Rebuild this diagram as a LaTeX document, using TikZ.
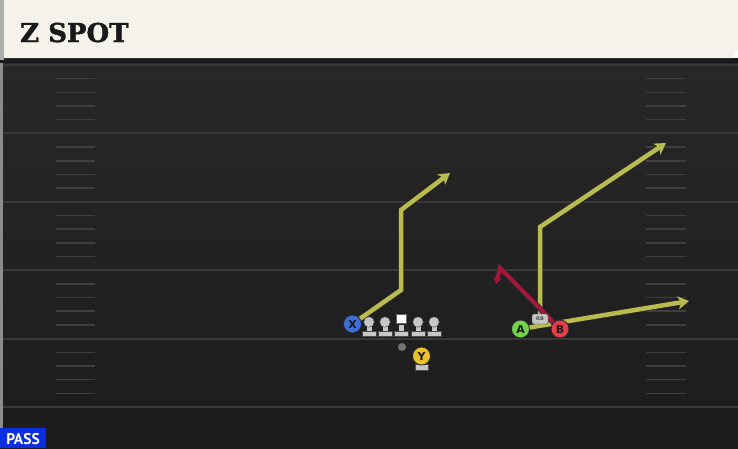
\documentclass[tikz,border=0pt]{standalone}
\usepackage{fontspec}
\setmainfont{DejaVu Sans}
\newfontfamily\titlefont{DejaVu Serif}[BoldFont={DejaVu Serif Bold}, BoldFeatures={FakeBold=1.5}]
\newfontfamily\passfont{PT Sans}
\usetikzlibrary{arrows.meta}

\definecolor{fieldtop}{HTML}{282828}
\definecolor{fieldbot}{HTML}{1C1C1C}
\definecolor{yardline}{HTML}{393939}
\definecolor{hashmark}{HTML}{3F3F3F}
\definecolor{titlebg}{HTML}{F4F2EB}
\definecolor{routeyel}{HTML}{B9BB4E}
\definecolor{routered}{HTML}{A3173B}
\definecolor{xblue}{HTML}{3E6FD8}
\definecolor{ygold}{HTML}{E8C22C}
\definecolor{agreen}{HTML}{72D34B}
\definecolor{bred}{HTML}{E33F4B}
\definecolor{linegray}{HTML}{C6C6C6}
\definecolor{passblue}{HTML}{0B2FE0}

\pgfdeclarelayer{field}
\pgfdeclarelayer{routes}
\pgfsetlayers{field,routes,main}

\begin{document}
\begin{tikzpicture}
        [x=1pt, y=-1pt,
        player/.style={circle, draw=black!85, line width=0.8pt, minimum size=18pt, inner sep=0pt,
          font=\bfseries\fontsize{11}{11}\selectfont, text=black!90},
        olhead/.style={circle, fill=linegray, draw=black!70, line width=0.4pt, minimum size=10.5pt, inner sep=0pt},
        snapper/.style={rectangle, fill=white, draw=black!60, line width=0.4pt, minimum width=10pt, minimum height=9pt, inner sep=0pt},
        route/.style={line width=4.5pt, draw=routeyel, -{Stealth[length=11pt, width=13pt, inset=3pt]},
          preaction={draw=black!85, line width=6pt, -, shorten >=8pt}},
        curl/.style={line width=4pt, draw=routered, -{Stealth[length=7pt, width=9pt, inset=2pt]},
          preaction={draw=black!85, line width=5.5pt, -, shorten >=5pt}}]

        \useasboundingbox (0,0) rectangle (738,448);

        % field and title bar
        \begin{pgfonlayer}{field}
        \shade[top color=fieldtop, bottom color=fieldbot] (0,58) rectangle (738,448);
        \fill[black!45] (0,60) rectangle (2.5,448);
        \fill[black!90] (0,58) rectangle (738,63);
        \fill[titlebg] (3,0) -- (738,0) -- (738,49) -- (733,58) -- (3,58) -- cycle;
        \fill[black!32] (0,0) rectangle (4,60);
        \foreach \k in {0,...,5}
          \draw[yardline, line width=2pt] (3,65+68.4*\k) -- (738,65+68.4*\k);
        \foreach \k in {0,...,4}
          \foreach \j in {1,...,4} {
            \draw[hashmark, line width=1.5pt] (56,65+68.4*\k+13.68*\j) -- (95,65+68.4*\k+13.68*\j);
            \draw[hashmark, line width=1.5pt] (646,65+68.4*\k+13.68*\j) -- (686,65+68.4*\k+13.68*\j);
          }
        \end{pgfonlayer}

        \node[anchor=base west, text=black!90, inner sep=0pt] (title) at (20,42)
          {\titlefont\bfseries\fontsize{26}{26}\selectfont Z SPOT};
        \fill[passblue] (0,428) rectangle (46,448);
        \node[anchor=base, text=white, inner sep=0pt] (pass) at (23,444)
          {\passfont\bfseries\fontsize{15.5}{15.5}\selectfont PASS};

        % offensive line
        \foreach \nm/\px in {lt/369, lg/385, c/401, rg/418, rt/434} {
          \fill[linegray] (\px-2.5,325) rectangle (\px+2.5,332);
          \fill[linegray, draw=black!70, line width=0.4pt] (\px-7,331) rectangle (\px+7,336);
        }
        \foreach \nm/\px in {lt/369, lg/385, rg/418, rt/434}
          \node[olhead] (\nm) at (\px,322) {};
        \node[snapper] (c) at (401,318.5) {};

        % backfield and receivers
        \node[circle, fill=black!55, minimum size=8pt, inner sep=0pt] (qb) at (402,347) {};
        \fill[linegray, draw=black!70, line width=0.4pt] (415,364) rectangle (428,370);
        \node[player, fill=xblue] (X) at (352.5,324) {X};
        \node[player, fill=ygold] (Y) at (421.5,356) {Y};
        \node[player, fill=agreen] (A) at (520.5,329) {A};
        \node[rectangle, rounded corners=2pt, fill=linegray, draw=black!70, line width=0.4pt,
          minimum width=16pt, minimum height=10pt, inner sep=0pt,
          font=\bfseries\fontsize{5}{5}\selectfont, text=black!70] (RB) at (540,319) {RB};
        \node[player, fill=bred] (B) at (560,329) {B};

        \coordinate (xbend) at (401,290);
        \coordinate (xstem) at (401,210);
        \coordinate (xend) at (450,173);
        \coordinate (rbstem) at (540,227);
        \coordinate (rbend) at (666,143);
        \coordinate (aend) at (689,301);
        \coordinate (btop) at (500,268);
        \coordinate (bend) at (496,284);

        % routes
        \begin{pgfonlayer}{routes}
        \draw[route] (X.center) -- (xbend) -- (xstem) -- (xend);
        \draw[route] (RB.center) -- (rbstem) -- (rbend);
        \draw[route] (A.center) -- (aend);
        \draw[curl] (B.center) -- (btop) -- (bend);
        \end{pgfonlayer}

    \end{tikzpicture}
\end{document}
